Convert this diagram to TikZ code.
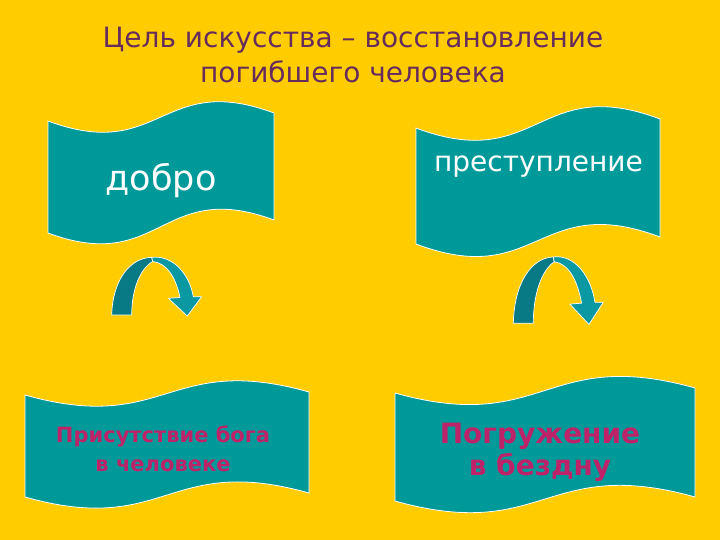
\documentclass[tikz,border=0pt]{standalone}
\usepackage{fontspec}
\setmainfont{DejaVu Sans}
\definecolor{bgyellow}{RGB}{255,204,0}
\definecolor{flagteal}{RGB}{0,153,153}
\definecolor{arrdark}{RGB}{8,122,134}
\definecolor{arrlight}{RGB}{10,152,162}
\definecolor{titlecol}{RGB}{102,45,92}
\definecolor{magtext}{RGB}{190,35,105}
\tikzset{
  flagst/.style={fill=flagteal, draw=white, line width=0.8pt},
  arrdk/.style={fill=arrdark, draw=white, line width=0.7pt, line join=round},
  arrlt/.style={fill=arrlight, draw=white, line width=0.7pt, line join=round},
  wtext/.style={text=white, inner sep=0pt},
  mtext/.style={text=magtext, inner sep=0pt, align=center, font=\bfseries},
}
\newcommand\wflag[7]{%
  \draw[flagst] (#1,#3) .. controls ({(#1+#2)/2},{#3+#7}) and ({(#1+#2)/2},{#4-#7}) .. (#2,#4)
    -- (#2,#6) .. controls ({(#1+#2)/2},{#6-#7}) and ({(#1+#2)/2},{#5+#7}) .. (#1,#5) -- cycle;}
\newcommand\curvarrow{%
  \draw[arrdk] (0,0) .. controls (1,-35) and (18,-57) .. (40,-57.7)
    -- (41,-53.5) .. controls (28,-46) and (20,-25) .. (20,0) -- cycle;
  \draw[arrlt] (40,-57.7) .. controls (62,-60) and (78,-40) .. (81.6,-18.3)
    -- (90,-18.3) -- (75.6,1) -- (56.6,-16.7) -- (68.3,-17.5)
    .. controls (64,-38) and (55,-52) .. (41,-53.5) -- cycle;}
\begin{document}
\begin{tikzpicture}[x=1pt,y=-1pt]
\fill[bgyellow] (0,0) rectangle (720,540);
\useasboundingbox (0,0) rectangle (720,540);
% flags
\wflag{48}{274}{121}{113}{233}{220}{42}
\wflag{416}{660}{128}{119}{244}{237}{46}
\wflag{25}{309}{395}{392}{497}{493}{40}
\wflag{395}{695}{393}{388}{501}{497}{42}
% arrows
\begin{scope}[shift={(111.7,315)}]
  \curvarrow
\end{scope}
\begin{scope}[shift={(513.3,323.3)}, yscale=1.15]
  \curvarrow
\end{scope}
% texts
\node[text=titlecol, align=center, inner sep=0pt, font=\fontsize{28}{35}\selectfont] (title) at (353,55)
  {Цель искусства – восстановление\\погибшего человека};
\node[wtext, anchor=base, font=\fontsize{35}{40}\selectfont] (dobro) at (161,190.7) {добро};
\node[wtext, anchor=base, font=\fontsize{28}{32}\selectfont] (prest) at (538.5,171.7) {преступление};
\node[mtext, font=\bfseries\fontsize{21}{29}\selectfont] (bog) at (163,449) {Присутствие бога\\в человеке};
\node[mtext, font=\bfseries\fontsize{28}{32}\selectfont] (bezdna) at (540,452) {Погружение\\в бездну};
\end{tikzpicture}
\end{document}
